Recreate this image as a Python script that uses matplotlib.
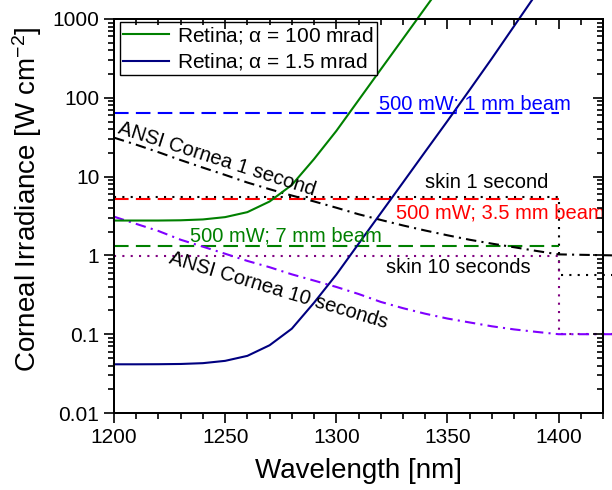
import numpy as np
import matplotlib
matplotlib.use('Agg')
import matplotlib.pyplot as plt
from matplotlib.ticker import MultipleLocator, FixedLocator, LogLocator, NullFormatter

plt.rcParams['font.family'] = ['Liberation Sans', 'DejaVu Sans']
plt.rcParams['mathtext.default'] = 'regular'

#------------------------ DATA
wl = [1200, 1210, 1220, 1230, 1240, 1250, 1260, 1270, 1280, 1290, 1300,
      1310, 1320, 1330, 1340, 1350, 1360, 1370, 1380, 1390]
retina_1p5 = [0.0415, 0.0415, 0.0416, 0.0419, 0.0429, 0.0459, 0.0531, 0.0724,
              0.1175, 0.251, 0.569, 1.40, 3.43, 8.41, 20.7, 50.7, 126, 316, 813, 2090]
wl_100 = wl[:16]
retina_100 = [2.77, 2.77, 2.77, 2.79, 2.86, 3.06, 3.54, 4.83, 7.83, 16.7, 37.9,
              93.1, 229, 561, 1380, 3380]

wl_cornea = [1200, 1210, 1220, 1230, 1240, 1250, 1260, 1270, 1280, 1290, 1300,
             1310, 1320, 1330, 1340, 1350, 1360, 1370, 1380, 1390, 1400, 1425]
cornea_1s = [31.2, 25.4, 20.4, 16.2, 13.0, 10.5, 8.41, 6.92, 5.75, 4.84, 4.03,
             3.33, 2.82, 2.40, 2.07, 1.80, 1.58, 1.41, 1.27, 1.14, 1.03, 1.0]
cornea_10s = [3.10, 2.51, 2.04, 1.58, 1.29, 1.05, 0.851, 0.708, 0.575, 0.479, 0.398,
              0.324, 0.257, 0.214, 0.182, 0.158, 0.141, 0.126, 0.115, 0.107, 0.100, 0.100]

wl_skin = [1200, 1400, 1400, 1425]
skin_1s = [5.5, 5.5, 0.56, 0.56]
skin_10s = [0.98, 0.98, 0.1, 0.1]

wl_beam = [1200, 1400]
beam_1mm = [63.7, 63.7]
beam_3p5mm = [5.2, 5.2]
beam_7mm = [1.3, 1.3]

#------------------------ PLOT
my_dpi = 100
fig = plt.figure(figsize=(612 / my_dpi, 490 / my_dpi), dpi=my_dpi)
ax = fig.add_axes([114 / 612, 77 / 490, 489 / 612, 394 / 490])

ax.plot(wl_beam, beam_1mm, color='#0000FF', lw=1.5, dashes=(7, 3.5))
ax.plot(wl_skin, skin_1s, color='black', lw=1.5, dashes=(1, 3), clip_on=False)
ax.plot(wl_beam, beam_3p5mm, color='#FF0000', lw=1.5, dashes=(7, 3.5))
ax.plot(wl_beam, beam_7mm, color='#008000', lw=1.5, dashes=(7, 3.5))
ax.plot(wl_skin, skin_10s, color='#800080', lw=1.5, dashes=(1, 3), clip_on=False)
ax.plot(wl_cornea, cornea_1s, color='black', lw=1.5, dashes=(5, 2.5, 1, 2.5), clip_on=False)
ax.plot(wl_cornea, cornea_10s, color='#8000FF', lw=1.5, dashes=(5, 2.5, 1, 2.5), clip_on=False)
l1, = ax.plot(wl_100, retina_100, color='#008000', lw=1.5, clip_on=False)
l2, = ax.plot(wl, retina_1p5, color='#000080', lw=1.5, clip_on=False)

fs = 14.5
ax.text(1319.2, 71.4, '500 mW; 1 mm beam', color='#0000FF', fontsize=fs)
ax.text(1339.8, 7.23, 'skin 1 second', color='black', fontsize=fs)
ax.text(1326.7, 2.96, '500 mW; 3.5 mm beam', color='#FF0000', fontsize=fs, clip_on=False)
ax.text(1234.2, 1.49, '500 mW; 7 mm beam', color='#008000', fontsize=fs)
ax.text(1322.5, 0.593, 'skin 10 seconds', color='black', fontsize=fs)
ax.text(1201.2, 35.4, 'ANSI Cornea 1 second', color='black', fontsize=fs,
        rotation=-17.7, rotation_mode='anchor')
ax.text(1224.5, 0.80, 'ANSI Cornea 10 seconds', color='black', fontsize=fs,
        rotation=-16.7, rotation_mode='anchor')

leg = ax.legend([l1, l2], [r'Retina; $\alpha$ = 100 mrad', r'Retina; $\alpha$ = 1.5 mrad'],
                loc='upper left', bbox_to_anchor=(0.0123, 0.9924), borderaxespad=0,
                fontsize=15, frameon=True, fancybox=False, framealpha=1,
                edgecolor='black', borderpad=0.15, handlelength=2.2,
                handletextpad=0.4, labelspacing=0.25)
leg.get_frame().set_linewidth(1.0)
leg.set_zorder(10)

ax.set_yscale('log')
ax.set_xlim(1200, 1420)
ax.set_ylim(0.01, 1000)

ax.xaxis.set_major_locator(MultipleLocator(50))
ax.xaxis.set_minor_locator(MultipleLocator(10))
yt = [0.01, 0.1, 1, 10, 100, 1000]
ax.yaxis.set_major_locator(FixedLocator(yt))
ax.set_yticklabels(['0.01', '0.1', '1', '10', '100', '1000'])
ax.yaxis.set_minor_locator(LogLocator(base=10, subs=np.arange(2, 10)))
ax.yaxis.set_minor_formatter(NullFormatter())

ax.tick_params(which='both', direction='out', labelsize=15, width=1.2)
ax.tick_params(which='major', length=7)
ax.tick_params(which='minor', length=4)
for s in ax.spines.values():
    s.set_linewidth(1.4)

# inward ticks on top and right
axt = ax.twiny()
axt.set_xlim(ax.get_xlim())
axt.xaxis.set_major_locator(MultipleLocator(50))
axt.xaxis.set_minor_locator(MultipleLocator(10))
axt.tick_params(which='both', direction='in', labeltop=False, width=1.2)
axt.tick_params(which='major', length=7)
axt.tick_params(which='minor', length=4)
axr = ax.twinx()
axr.set_yscale('log')
axr.set_ylim(ax.get_ylim())
axr.yaxis.set_major_locator(FixedLocator(yt))
axr.yaxis.set_minor_locator(LogLocator(base=10, subs=np.arange(2, 10)))
axr.tick_params(which='both', direction='in', labelright=False, width=1.2)
axr.tick_params(which='major', length=7)
axr.tick_params(which='minor', length=4)
for a in (axt, axr):
    for s in a.spines.values():
        s.set_linewidth(1.4)

ax.set_xlabel('Wavelength [nm]', fontsize=20)
ax.xaxis.set_label_coords(0.5, -0.115)
ax.set_ylabel('Corneal Irradiance [W cm$^{-2}$]', fontsize=20)
ax.yaxis.set_label_coords(-0.143, 0.542)

fig.savefig('out.png', dpi=my_dpi)
plt.close(fig)
